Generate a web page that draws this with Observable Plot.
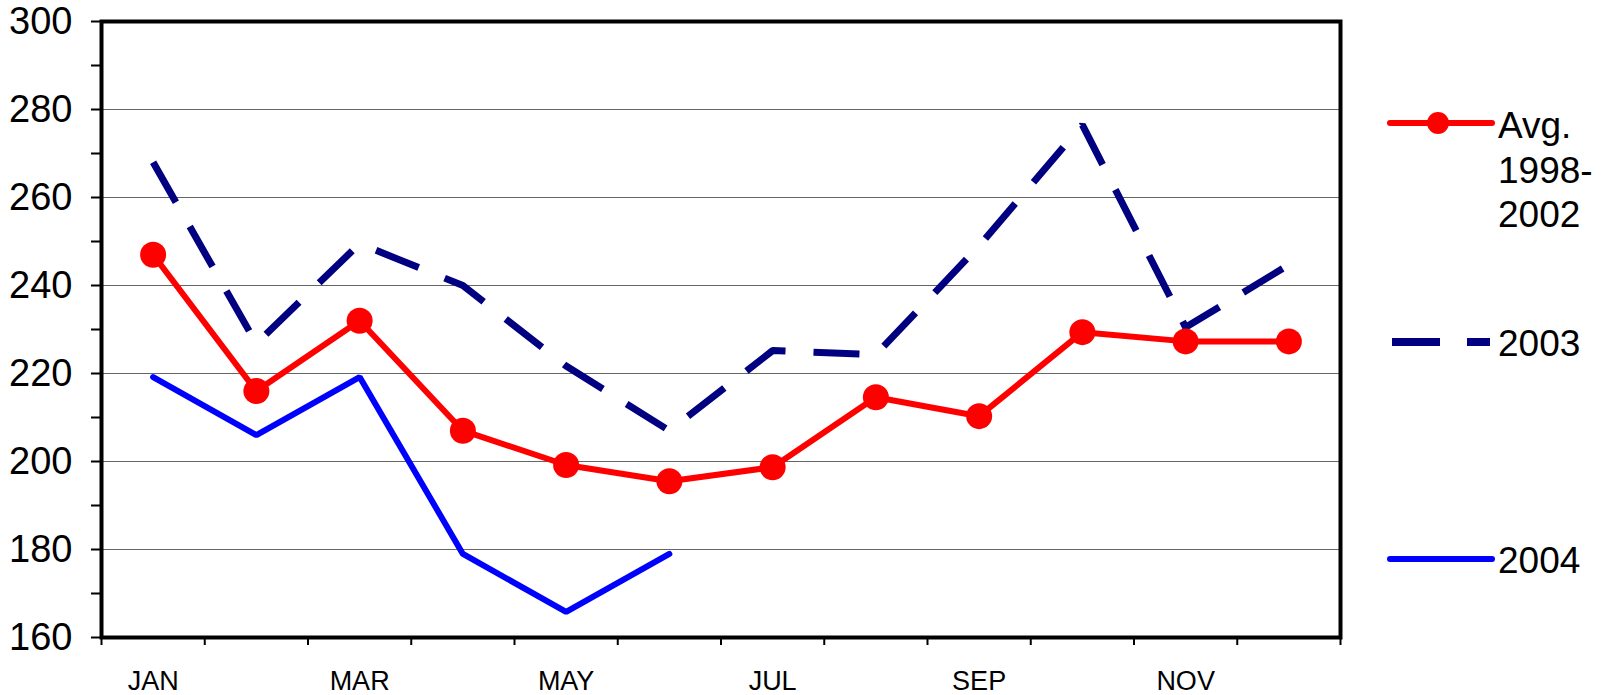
<!DOCTYPE html>
<html><head><meta charset="utf-8">
<script src="https://cdn.jsdelivr.net/npm/d3@7"></script>
<script src="https://cdn.jsdelivr.net/npm/@observablehq/plot@0.6"></script>
<style>body{margin:0;background:#fff;}</style>
</head><body><div id="chart"></div>
<script>
const months = ["JAN","FEB","MAR","APR","MAY","JUN","JUL","AUG","SEP","OCT","NOV","DEC"];
const labelMonths = ["JAN","MAR","MAY","JUL","SEP","NOV"];
const avg9802 = [247, 216, 232, 207, 199.2, 195.5, 198.7, 214.6, 210.3, 229.4, 227.3, 227.3];
const y2003 = [268, 226.8, 249.5, 240, 221.7, 207, 225.2, 224.3, 249, 276.5, 230.5, 244.7];
const y2004 = [219.2, 206, 219.2, 179, 165.8, 179];
const seriesNames = ["Avg.\n1998-\n2002", "2003", "2004"];
const seriesColors = ["#ff0000", "#000080", "#0000ff"];
const yTicks = d3.range(160, 301, 10);
const yLabelTicks = d3.range(160, 301, 20);
const gridTicks = [180, 200, 220, 240, 260, 280];

const rowsAvg = months.map((m, i) => ({i, v: avg9802[i]}));
const rows2003 = months.map((m, i) => ({i, v: y2003[i]}));
const rows2004 = y2004.map((v, i) => ({i, v}));

const font = "Arial, 'Liberation Sans', sans-serif";
const svg = Plot.plot({
  width: 1608, height: 695,
  marginLeft: 101, marginRight: 268, marginTop: 21, marginBottom: 58,
  style: {fontFamily: font, background: "#fff", color: "#000", overflow: "visible"},
  x: {type: "linear", domain: [-0.5, 11.5]},
  y: {domain: [160, 300]},
  marks: [
    Plot.gridY(gridTicks, {stroke: "#000", strokeOpacity: 0.6, strokeWidth: 1}),
    Plot.axisY(yTicks, {tickSize: 10, tickPadding: 19, strokeWidth: 2, fontSize: 38, label: null,
      tickFormat: d => yLabelTicks.includes(d) ? String(d) : ""}),
    Plot.axisX(d3.range(-0.5, 12, 1), {tickSize: 8, strokeWidth: 2, tickFormat: () => "", label: null}),
    Plot.axisX(labelMonths.map(m => months.indexOf(m)), {tickSize: 0, tickPadding: 33, fontSize: 27, label: null,
      tickFormat: i => months[i]}),
    Plot.line(rows2003, {x: "i", y: "v", stroke: seriesColors[1], strokeWidth: 7,
      strokeDasharray: "46,28", strokeLinecap: "butt", strokeLinejoin: "miter"}),
    Plot.line(rows2004, {x: "i", y: "v", stroke: seriesColors[2], strokeWidth: 6, strokeLinejoin: "miter"}),
    Plot.line(rowsAvg, {x: "i", y: "v", stroke: seriesColors[0], strokeWidth: 6}),
    Plot.dot(rowsAvg, {x: "i", y: "v", r: 13, fill: seriesColors[0], stroke: "none"}),
    Plot.frame({stroke: "#000", strokeWidth: 4})
  ]
});
document.getElementById("chart").appendChild(svg);

// Legend (drawn to the right of the plot)
const lg = d3.select(svg).append("g").attr("font-family", font).attr("font-size", 37)
  .attr("fill", "#000").attr("text-anchor", "start");
const legendY = [123, 342, 559];
const x0 = 1390, x1 = 1492, tx = 1498;
// Avg
lg.append("line").attr("x1", x0).attr("x2", x1).attr("y1", legendY[0]).attr("y2", legendY[0])
  .attr("stroke", seriesColors[0]).attr("stroke-width", 6).attr("stroke-linecap", "round");
lg.append("circle").attr("cx", (x0 + x1) / 2 - 3).attr("cy", legendY[0]).attr("r", 11).attr("fill", seriesColors[0]);
// 2003
lg.append("line").attr("x1", 1392).attr("x2", 1490).attr("y1", legendY[1]).attr("y2", legendY[1])
  .attr("stroke", seriesColors[1]).attr("stroke-width", 8).attr("stroke-dasharray", "48,27");
// 2004
lg.append("line").attr("x1", x0).attr("x2", x1).attr("y1", legendY[2]).attr("y2", legendY[2])
  .attr("stroke", seriesColors[2]).attr("stroke-width", 6).attr("stroke-linecap", "round");
// texts
const avgLines = seriesNames[0].split("\n");
const t0 = lg.append("text");
avgLines.forEach((s, k) => t0.append("tspan").attr("x", tx).attr("y", 138 + k * 44.5).text(s));
lg.append("text").attr("x", tx).attr("y", 356).text(seriesNames[1]);
lg.append("text").attr("x", tx).attr("y", 573).text(seriesNames[2]);
</script>
</body></html>
